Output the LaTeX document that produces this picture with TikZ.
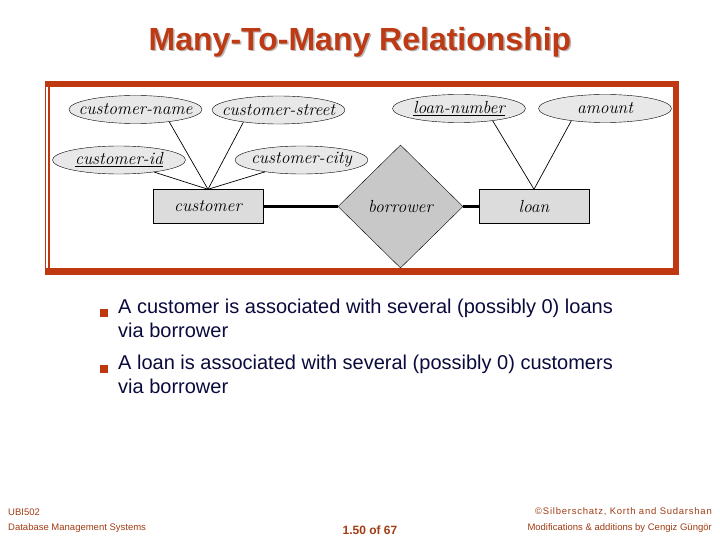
\documentclass[tikz,border=0pt]{standalone}
\usepackage{fontspec}
\setsansfont{Liberation Sans}
\usetikzlibrary{shapes.geometric}
\definecolor{framered}{RGB}{192,56,16}
\definecolor{titlered}{RGB}{190,58,20}
\definecolor{navy}{RGB}{10,10,60}
\definecolor{footbrown}{RGB}{160,60,20}
\definecolor{ellfill}{RGB}{232,232,232}
\definecolor{boxfill}{RGB}{220,220,220}
\definecolor{diafill}{RGB}{200,200,200}
\tikzset{
  erfont/.style={font=\fontsize{17.5}{19}\selectfont\itshape},
  attr/.style={ellipse, draw, thin, fill=ellfill, minimum width=133pt, minimum height=28pt, inner ysep=0pt, inner xsep=-15pt, erfont},
  ent/.style={rectangle, draw, thin, fill=boxfill, minimum width=110pt, minimum height=34pt, inner sep=0pt, erfont},
  rel/.style={diamond, draw, thin, fill=diafill, minimum width=125pt, minimum height=123pt, inner sep=0pt, erfont},
  link/.style={draw, line width=0.7pt},
  thicklink/.style={draw, line width=2.2pt},
  bodytext/.style={font=\sffamily\fontsize{20}{24}\selectfont, text=navy, anchor=north west, align=left, inner sep=0pt},
  foot/.style={font=\sffamily\fontsize{9.5}{10}\selectfont, text=footbrown, inner sep=0pt},
  bulletsq/.style={fill=framered, draw=none, minimum size=7.5pt, inner sep=0pt},
  titlefont/.style={font=\sffamily\bfseries\fontsize{32}{36}\selectfont}
}
\begin{document}
\begin{tikzpicture}[x=1pt,y=-1pt]
\useasboundingbox (0,0) rectangle (720,540);
% title with shadow
\node[titlefont, text=gray!55] (titleshadow) at (361.5,43.5) {Many-To-Many Relationship};
\node[titlefont, text=titlered] (title) at (360,42) {Many-To-Many Relationship};
% frame
\draw[framered, line width=6.5pt] (45,84) -- (676,84) -- (676,271.5) -- (45,271.5);
\draw[framered, line width=1.3pt] (45.5,84) -- (45.5,275);
\draw[framered, line width=1.3pt] (49,84) -- (49,271.5);
% ER diagram
\node[attr] (cname) at (135.5,109.5) {customer-name};
\node[attr] (cstreet) at (278.5,110) {customer-street};
\node[attr] (cid) at (119,160) {\underline{customer-id}};
\node[attr] (ccity) at (301.5,160) {customer-city};
\node[attr] (lnum) at (459,108.5) {\underline{loan-number}};
\node[attr] (amount) at (605,108.5) {amount};
\node[ent] (customer) at (208,206.5) {customer};
\node[rel] (borrower) at (400.5,206.5) {borrower};
\node[ent] (loan) at (534,206.5) {loan};
\draw[link] (cname.-20) -- (customer.north);
\draw[link] (cstreet.199) -- (customer.north);
\draw[link] (cid.-19) -- (customer.north);
\draw[link] (ccity.198) -- (customer.north);
\draw[link] (lnum.-20) -- (loan.north);
\draw[link] (amount.200) -- (loan.north);
\draw[thicklink] (customer.east) -- (borrower.west);
\draw[thicklink] (borrower.east) -- (loan.west);
% bullets
\node[bulletsq] (b1) at (104,313) {};
\node[bodytext] (t1) at (118,299) {A customer is associated with several (possibly 0) loans\\via borrower};
\node[bulletsq] (b2) at (104,369) {};
\node[bodytext] (t2) at (118,355) {A loan is associated with several (possibly 0) customers\\via borrower};
% footer
\node[foot, anchor=west] (f1) at (8,512) {UBI502};
\node[foot, anchor=west] (f2) at (8,528) {Database Management Systems};
\node[foot, anchor=east] (f3) at (712,512) {\addfontfeature{LetterSpace=8}©Silberschatz, Korth and Sudarshan};
\node[foot, anchor=east] (f4) at (712,528) {Modifications \& additions by Cengiz Güngör};
\node[font=\sffamily\bfseries\fontsize{12}{14}\selectfont, text=footbrown, inner sep=0pt] (pg) at (370,530) {1.50 of 67};
\end{tikzpicture}
\end{document}
